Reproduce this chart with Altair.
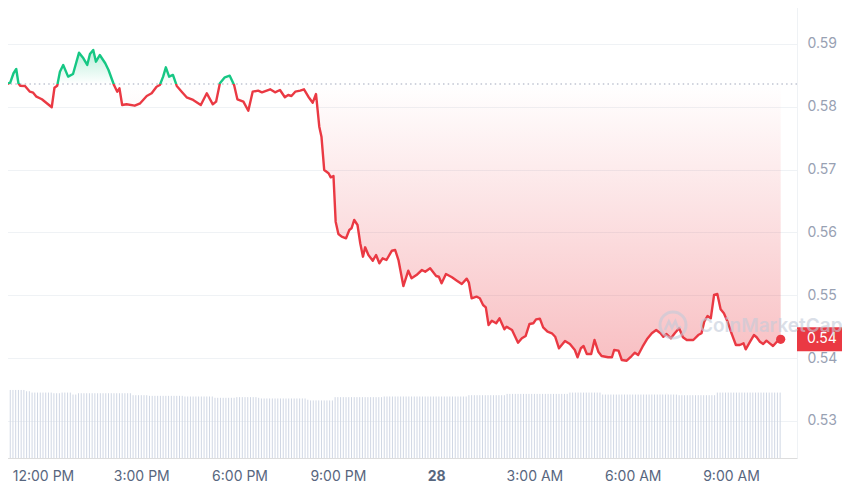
import altair as alt
import pandas as pd

# ---------------- data ----------------
# price samples: minutes after 12:00 PM on the 27th, and price (USD)
price_minutes = [
    -79, -73, -66, -60, -54, -49, -45, -42, -33, -24,
    -18, -12, -2, 7, 16, 21, 26, 31, 37, 46,
    55, 66, 74, 81, 86, 92, 97, 104, 114, 120,
    130, 136, 140, 145, 153, 168, 178, 190, 199, 208,
    214, 220, 225, 231, 238, 245, 254, 263, 275, 289,
    300, 311, 317, 324, 333, 342, 350, 356, 367, 376,
    384, 394, 401, 416, 425, 434, 443, 449, 455, 462,
    471, 478, 486, 494, 500, 506, 510, 515, 523, 527,
    532, 536, 541, 547, 555, 561, 565, 570, 576, 581,
    586, 590, 596, 604, 610, 616, 622, 629, 639, 645,
    651, 660, 669, 675, 684, 694, 700, 709, 720, 725,
    730, 738, 749, 758, 767, 776, 780, 785, 794, 800,
    806, 811, 816, 822, 830, 836, 845, 849, 859, 870,
    877, 884, 891, 898, 903, 910, 916, 924, 932, 938,
    945, 956, 965, 974, 979, 985, 990, 996, 1004, 1010,
    1017, 1023, 1035, 1042, 1046, 1054, 1060, 1069, 1078, 1084,
    1090, 1098, 1106, 1115, 1123, 1131, 1136, 1142, 1150, 1157,
    1165, 1172, 1179, 1191, 1200, 1206, 1211, 1217, 1223, 1229,
    1235, 1241, 1247, 1253, 1261, 1269, 1276, 1283, 1287, 1295,
    1302, 1307, 1313, 1319, 1325, 1331, 1337, 1344, 1351,
]
price_values = [
    0.58375, 0.58390, 0.58363, 0.58384, 0.58534, 0.58602, 0.58375, 0.58336, 0.58332, 0.58241,
    0.58225, 0.58161, 0.58120, 0.58056, 0.57993, 0.58304, 0.58336, 0.58559, 0.58666, 0.58480,
    0.58523, 0.58862, 0.58772, 0.58666, 0.58841, 0.58905, 0.58718, 0.58825, 0.58693, 0.58586,
    0.58347, 0.58241, 0.58295, 0.58029, 0.58040, 0.58018, 0.58056, 0.58172, 0.58215, 0.58320,
    0.58347, 0.58480, 0.58629, 0.58480, 0.58507, 0.58332, 0.58241, 0.58152, 0.58109, 0.58029,
    0.58215, 0.58040, 0.58082, 0.58375, 0.58470, 0.58495, 0.58347, 0.58120, 0.58082, 0.57938,
    0.58241, 0.58257, 0.58231, 0.58279, 0.58231, 0.58268, 0.58152, 0.58188, 0.58172, 0.58241,
    0.58257, 0.58279, 0.58161, 0.58066, 0.58204, 0.57684, 0.57525, 0.56995, 0.56942, 0.56878,
    0.56899, 0.56172, 0.55976, 0.55933, 0.55908, 0.56040, 0.56067, 0.56199, 0.56119, 0.55828,
    0.55615, 0.55764, 0.55642, 0.55551, 0.55642, 0.55510, 0.55589, 0.55562, 0.55710, 0.55721,
    0.55562, 0.55148, 0.55392, 0.55271, 0.55323, 0.55403, 0.55376, 0.55430, 0.55308, 0.55296,
    0.55191, 0.55339, 0.55287, 0.55233, 0.55180, 0.55265, 0.55201, 0.54953, 0.54978, 0.54953,
    0.54846, 0.54809, 0.54528, 0.54596, 0.54555, 0.54634, 0.54459, 0.54501, 0.54448, 0.54246,
    0.54316, 0.54353, 0.54544, 0.54555, 0.54618, 0.54628, 0.54491, 0.54421, 0.54396, 0.54341,
    0.54157, 0.54273, 0.54225, 0.54130, 0.54014, 0.54157, 0.54193, 0.54066, 0.54066, 0.54289,
    0.54103, 0.54034, 0.54014, 0.54014, 0.54130, 0.54119, 0.53971, 0.53959, 0.54034, 0.54087,
    0.54050, 0.54182, 0.54300, 0.54396, 0.54448, 0.54396, 0.54341, 0.54384, 0.54316, 0.54396,
    0.54475, 0.54332, 0.54289, 0.54289, 0.54368, 0.54396, 0.54580, 0.54671, 0.54634, 0.55005,
    0.55021, 0.54778, 0.54714, 0.54596, 0.54396, 0.54209, 0.54209, 0.54236, 0.54141, 0.54262,
    0.54368, 0.54332, 0.54262, 0.54225, 0.54278, 0.54236, 0.54193, 0.54262, 0.54300,
]
open_price = 0.58363  # 24h reference price (dotted line)

# volume bars, one every 5 minutes from 10:35 AM (relative units, 12 per row = 1 hour)
volume_values = [
    104, 104, 104, 104, 104, 104, 104, 104, 104, 104, 104, 102,
    102, 100, 100, 100, 100, 100, 100, 100, 100, 99, 99, 99,
    100, 100, 100, 100, 97, 97, 99, 99, 99, 99, 99, 99,
    99, 99, 99, 99, 99, 99, 99, 99, 99, 99, 99, 99,
    99, 99, 96, 96, 96, 96, 96, 96, 95, 95, 95, 95,
    95, 95, 95, 95, 95, 95, 95, 95, 95, 94, 94, 94,
    94, 94, 94, 94, 94, 94, 94, 94, 92, 92, 92, 92,
    92, 92, 92, 92, 93, 93, 93, 93, 93, 93, 93, 93,
    92, 91, 91, 91, 91, 91, 91, 91, 91, 91, 91, 91,
    91, 91, 91, 91, 91, 91, 89, 88, 88, 88, 88, 88,
    88, 88, 88, 88, 93, 93, 93, 93, 93, 93, 93, 93,
    93, 93, 93, 93, 93, 93, 93, 93, 93, 93, 94, 94,
    94, 94, 94, 94, 94, 94, 94, 94, 94, 94, 94, 94,
    94, 94, 94, 94, 94, 94, 94, 94, 94, 94, 94, 94,
    94, 94, 94, 94, 94, 96, 96, 96, 96, 96, 96, 96,
    96, 96, 96, 96, 96, 96, 96, 98, 98, 98, 98, 98,
    98, 98, 98, 98, 98, 98, 98, 98, 98, 98, 98, 98,
    98, 98, 98, 98, 98, 98, 100, 100, 100, 100, 100, 100,
    100, 100, 100, 100, 100, 100, 97, 97, 97, 97, 97, 97,
    97, 97, 97, 97, 97, 97, 97, 97, 97, 97, 97, 97,
    97, 97, 97, 97, 97, 97, 97, 97, 97, 97, 96, 96,
    96, 96, 96, 96, 96, 96, 96, 96, 96, 96, 96, 96,
    100, 100, 100, 100, 100, 100, 100, 100, 100, 100, 100, 100,
    100, 100, 100, 100, 100, 100, 100, 100, 100, 100, 100, 100,
]

y_ticks = [0.53, 0.54, 0.55, 0.56, 0.57, 0.58, 0.59]
x_tick_hours = [(27, 12), (27, 15), (27, 18), (27, 21), (28, 0), (28, 3), (28, 6), (28, 9)]

# ---------------- build tables ----------------
W, H = 797, 458
GREEN, RED = "#16c784", "#ea3943"
base = pd.Timestamp("2024-06-27 12:00:00")

price_df = pd.DataFrame({
    "time": base + pd.to_timedelta(price_minutes, unit="m"),
    "price": price_values,
    "open": open_price,
})
last_df = price_df.tail(1).copy()
vol_df = pd.DataFrame({
    "time": pd.date_range(base - pd.Timedelta(minutes=85), periods=len(volume_values), freq="5min"),
    "volume": volume_values,
})

pmax, pmin = max(price_values), min(price_values)
f = (pmax - open_price) / (pmax - pmin)

x_scale = alt.Scale(domain=[
    alt.DateTime(year=2024, month=6, date=27, hours=10, minutes=41, seconds=15),
    alt.DateTime(year=2024, month=6, date=28, hours=11, minutes=0, seconds=54),
])
y_scale = alt.Scale(domain=[0.52411, 0.597], zero=False, nice=False)

x_axis = alt.Axis(
    values=[alt.DateTime(year=2024, month=6, date=d, hours=h) for d, h in x_tick_hours],
    labelExpr="hours(datum.value) == 0 ? timeFormat(datum.value, '%-d') : timeFormat(datum.value, '%-I:%M %p')",
    title=None, grid=False, domain=False, ticks=False, labelPadding=11,
    labelFontSize=14, labelColor="#58667e", labelFont="Inter",
    labelFontWeight={"condition": {"test": "hours(datum.value) == 0", "value": "bold"}, "value": "normal"},
)
y_axis = alt.Axis(
    orient="right", values=y_ticks, format=".2f", title=None,
    grid=True, gridColor="#eff2f5", gridWidth=1,
    domain=True, domainColor="#eff2f5", ticks=False, labelPadding=10,
    labelFontSize=14, labelColor="#98a1b3", labelFont="Inter",
)

X = alt.X("time:T", scale=x_scale, axis=x_axis)


def Y(field):
    return alt.Y(field, type="quantitative", scale=y_scale, axis=y_axis)


line_grad = alt.LinearGradient(
    gradient="linear", x1=0, x2=0, y1=0, y2=1,
    stops=[
        alt.GradientStop(color=GREEN, offset=0),
        alt.GradientStop(color=GREEN, offset=f),
        alt.GradientStop(color=RED, offset=f),
        alt.GradientStop(color=RED, offset=1),
    ],
)
area_grad = alt.LinearGradient(
    gradient="linear", x1=0, x2=0, y1=0, y2=1,
    stops=[
        alt.GradientStop(color="rgba(22,199,132,0.30)", offset=0),
        alt.GradientStop(color="rgba(22,199,132,0.0)", offset=f),
        alt.GradientStop(color="rgba(234,57,67,0.0)", offset=f),
        alt.GradientStop(color="rgba(234,57,67,0.32)", offset=1),
    ],
)

volume = alt.Chart(vol_df).mark_rule(color="#d0d7e4", strokeWidth=1).encode(
    x=alt.X("time:T", scale=x_scale, axis=x_axis),
    y=alt.Y("volume:Q", scale=alt.Scale(domain=[0, 700]), axis=None),
    y2=alt.datum(0),
)

area = alt.Chart(price_df).mark_area(fill=area_grad, interpolate="linear").encode(
    x=X, y=Y("price"), y2=alt.Y2("open"),
)
baseline = alt.Chart(price_df.head(1)).mark_rule(
    color="#a1a7bb", strokeDash=[1.5, 3.2], strokeWidth=1.2
).encode(y=Y("open"))
line = alt.Chart(price_df).mark_line(stroke=line_grad, strokeWidth=2.4, strokeJoin="round").encode(
    x=X, y=Y("price"),
)
dot = alt.Chart(last_df).mark_circle(color=RED, size=85, opacity=1).encode(x=X, y=Y("price"))
tag = alt.Chart(last_df).mark_rule(color=RED, strokeWidth=24, strokeCap="butt").encode(
    x=alt.value(W), x2=alt.value(W + 60), y=Y("price"),
)
tag_text = alt.Chart(last_df).mark_text(
    color="white", fontSize=14, font="Inter", align="left", baseline="middle"
).encode(x=alt.value(W + 10), y=Y("price"), text=alt.Text("price:Q", format=".2f"))

wm_df = pd.DataFrame({"label": ["CoinMarketCap"]})
wm_ring = alt.Chart(wm_df).mark_point(
    shape="circle", size=676, filled=False, stroke="#c3cbd9", strokeWidth=3, opacity=0.6
).encode(x=alt.value(673), y=alt.value(325))
wm_wave = alt.Chart(wm_df).mark_point(
    shape="M-0.62,0.38L-0.32,-0.28L-0.08,0.22L0.18,-0.3L0.38,0.25L0.62,0.12",
    size=676, filled=False, stroke="#c3cbd9", strokeWidth=2.5, opacity=0.6,
).encode(x=alt.value(673), y=alt.value(325))
wm_text = alt.Chart(wm_df).mark_text(
    fontSize=19, font="Inter", fontWeight=600, color="#c3cbd9", opacity=0.6,
    align="left", baseline="middle",
).encode(x=alt.value(699), y=alt.value(326), text="label:N")

price_layers = alt.layer(area, baseline, line, dot, tag, tag_text)
chart = alt.layer(volume, price_layers, wm_ring, wm_wave, wm_text).resolve_scale(
    y="independent"
).properties(
    width=W, height=H,
    autosize=alt.AutoSizeParams(type="none"),
    padding={"left": -8, "top": -8, "right": 45, "bottom": 25},
    background="white",
).configure_view(stroke=None).configure(font="Inter")

chart.save("out.html", embed_options={"renderer": "svg", "actions": False})
